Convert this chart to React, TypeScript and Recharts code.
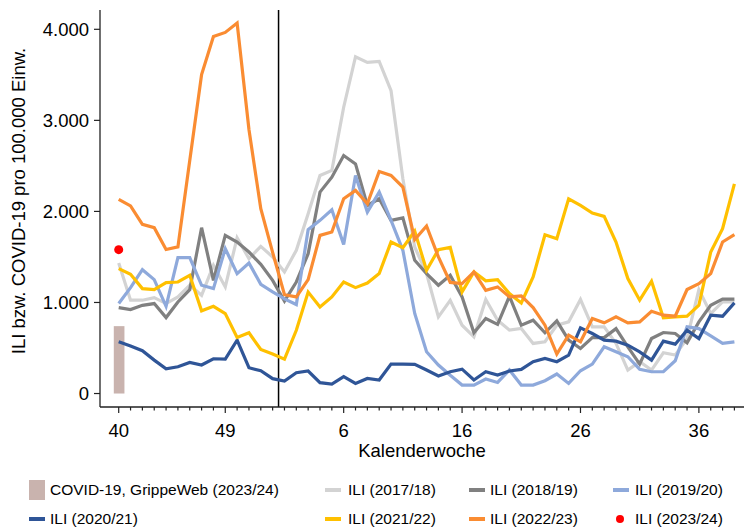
import { ComposedChart, Line, Bar, XAxis, YAxis, ReferenceLine } from 'recharts';

const weeks = [
  40, 41, 42, 43, 44, 45, 46, 47, 48, 49, 50, 51, 52, 53,
  1, 2, 3, 4, 5, 6, 7, 8, 9, 10, 11, 12, 13, 14, 15, 16, 17, 18, 19, 20,
  21, 22, 23, 24, 25, 26, 27, 28, 29, 30, 31, 32, 33, 34, 35, 36, 37, 38, 39,
];
const labelledWeeks = [40, 49, 6, 16, 26, 36];
const yTicks = [0, 1000, 2000, 3000, 4000];

const covid2324 = [740];
const ili2324 = [1580];
const ili1718 = [
  1434, 1025, 1025, 1053, 988, 1061, 1189, 1079, 1408, 1171, 1711, 1481, 1616, 1500,
  1335, 1573, 1975, 2395, 2450, 3144, 3699, 3636, 3647, 3326, 2358, 1610, 1317, 842, 1024, 750,
  623, 1032, 805, 696, 714, 550, 568, 750, 787, 1032, 732, 732, 550, 258, 350, 258,
  448, 422, 604, 1141, 878, 1006, 1006,
];
const ili1819 = [
  944, 922, 969, 988, 834, 1006, 1141, 1821, 1243, 1737, 1664, 1554, 1419, 1243,
  1015, 1225, 1536, 2212, 2376, 2614, 2522, 2065, 2139, 1901, 1929, 1463, 1317, 1189, 1298, 1061,
  667, 824, 760, 1068, 750, 805, 667, 798, 586, 495, 615, 615, 713, 513, 323, 604,
  670, 659, 557, 787, 970, 1036, 1036,
];
const ili1920 = [
  988, 1163, 1360, 1251, 958, 1492, 1492, 1189, 1152, 1591, 1317, 1434, 1200, 1116,
  1040, 977, 1799, 1902, 2018, 1638, 2395, 1993, 2212, 1901, 1573, 879, 459, 313, 200, 93,
  93, 159, 122, 258, 93, 93, 141, 214, 111, 250, 323, 513, 458, 404, 265, 239,
  239, 360, 732, 713, 633, 550, 568,
];
const ili2021 = [
  568, 521, 470, 367, 272, 294, 342, 313, 382, 378, 586, 283, 250, 163,
  137, 228, 247, 119, 104, 185, 111, 166, 148, 323, 323, 320, 258, 192, 239, 268,
  148, 239, 203, 247, 265, 349, 385, 349, 422, 721, 659, 586, 575, 531, 458, 367,
  575, 542, 696, 604, 860, 849, 995,
];
const ili2122 = [
  1372, 1310, 1152, 1141, 1218, 1225, 1298, 908, 958, 878, 616, 667, 484, 435,
  378, 695, 1115, 951, 1061, 1225, 1163, 1214, 1317, 1664, 1602, 1784, 1353, 1580, 1605, 1116,
  1335, 1237, 1251, 1098, 995, 1280, 1744, 1700, 2139, 2066, 1982, 1945, 1664, 1262, 1025, 1233,
  831, 842, 849, 970, 1554, 1810, 2303,
];
const ili2223 = [
  2132, 2060, 1858, 1821, 1582, 1610, 2560, 3502, 3922, 3966, 4068, 2900, 2030, 1550,
  1085, 1061, 1251, 1737, 1774, 2139, 2230, 2084, 2438, 2395, 2267, 1690, 1840, 1500, 1220, 1207,
  1335, 1134, 1171, 1061, 1072, 944, 750, 433, 641, 568, 824, 776, 842, 776, 787, 904,
  860, 849, 1142, 1207, 1317, 1664, 1744,
];

const data = weeks.map((week, i) => ({
  i,
  week,
  covid: covid2324[i] ?? null,
  s1718: ili1718[i],
  s1819: ili1819[i],
  s1920: ili1920[i],
  s2021: ili2021[i],
  s2122: ili2122[i],
  s2223: ili2223[i],
  s2324: ili2324[i] ?? null,
}));

const FONT = '"Liberation Sans", Arial, sans-serif';
const AXIS = '#222';

const series = [
  { key: 's1718', name: 'ILI (2017/18)', color: '#D3D3D3' },
  { key: 's1819', name: 'ILI (2018/19)', color: '#808080' },
  { key: 's1920', name: 'ILI (2019/20)', color: '#8EA9DB' },
  { key: 's2021', name: 'ILI (2020/21)', color: '#2F5597' },
  { key: 's2122', name: 'ILI (2021/22)', color: '#FFC000' },
  { key: 's2223', name: 'ILI (2022/23)', color: '#FA8C32' },
];

function WeekTick(props: any) {
  const { x, y, payload } = props;
  const week = weeks[payload.value];
  const major = labelledWeeks.includes(week);
  return (
    <g>
      <line x1={x} x2={x} y1={y} y2={y + (major ? 6 : 3.5)} stroke={AXIS} strokeWidth={1.2} />
      {major && (
        <text x={x} y={y + 23} dy="0.355em" textAnchor="middle" fontSize={18.5} fill="#000" fontFamily={FONT}>
          {week}
        </text>
      )}
    </g>
  );
}

const legendItems = [
  { name: 'COVID-19, GrippeWeb (2023/24)', kind: 'rect', color: '#C9B3AE', left: 29, text: 50, row: 0 },
  { name: 'ILI (2017/18)', kind: 'line', color: '#D3D3D3', left: 325, text: 348, row: 0 },
  { name: 'ILI (2018/19)', kind: 'line', color: '#808080', left: 469, text: 490, row: 0 },
  { name: 'ILI (2019/20)', kind: 'line', color: '#8EA9DB', left: 613, text: 635, row: 0 },
  { name: 'ILI (2020/21)', kind: 'line', color: '#2F5597', left: 29, text: 50, row: 1 },
  { name: 'ILI (2021/22)', kind: 'line', color: '#FFC000', left: 325, text: 348, row: 1 },
  { name: 'ILI (2022/23)', kind: 'line', color: '#FA8C32', left: 469, text: 490, row: 1 },
  { name: 'ILI (2023/24)', kind: 'dot', color: '#FF0000', left: 616, text: 635, row: 1 },
];

function ChartLegend() {
  return (
    <>
      {legendItems.map((it) => {
        const cy = it.row === 0 ? 490 : 519;
        return (
          <div key={it.name}>
            {it.kind === 'rect' && (
              <div style={{ position: 'absolute', left: it.left, top: cy - 10, width: 16, height: 20, background: it.color }} />
            )}
            {it.kind === 'line' && (
              <div style={{ position: 'absolute', left: it.left, top: cy - 2, width: 16, height: 4, background: it.color }} />
            )}
            {it.kind === 'dot' && (
              <div style={{ position: 'absolute', left: it.left, top: cy - 4, width: 8, height: 8, borderRadius: 4, background: it.color }} />
            )}
            <div style={{ position: 'absolute', left: it.text, top: cy - 10, height: 20, lineHeight: '20px', fontSize: 15.5, color: '#000', whiteSpace: 'nowrap' }}>
              {it.name}
            </div>
          </div>
        );
      })}
    </>
  );
}

export default function App() {
  return (
    <div style={{ position: 'absolute', left: 0, top: 0, width: 744, height: 528, background: '#fff', fontFamily: FONT }}>
      <ComposedChart width={744} height={528} data={data} margin={{ top: 10, right: 0, bottom: 61, left: 0 }}>
        <XAxis
          dataKey="i"
          type="number"
          domain={[-1.58, 52.81]}
          allowDataOverflow
          ticks={weeks.map((_, i) => i)}
          interval={0}
          height={60}
          tickSize={0}
          tickMargin={0}
          tickLine={false}
          axisLine={{ stroke: AXIS, strokeWidth: 1.3 }}
          tick={<WeekTick />}
          label={{
            content: ({ viewBox }: any) => (
              <text x={viewBox.x + viewBox.width / 2} y={viewBox.y + 43.5} dy="0.355em" textAnchor="middle" fontSize={18.5} fill="#000" fontFamily={FONT}>
                Kalenderwoche
              </text>
            ),
          }}
        />
        <YAxis
          type="number"
          domain={[-148, 4212]}
          allowDataOverflow
          ticks={yTicks}
          width={100}
          tickSize={6}
          tickMargin={5}
          tickLine={{ stroke: AXIS, strokeWidth: 1.2 }}
          axisLine={{ stroke: AXIS, strokeWidth: 1.3 }}
          tick={{ fontSize: 18.5, fill: '#000', fontFamily: FONT }}
          tickFormatter={(v: number) => (v === 0 ? '0' : `${v / 1000}.000`)}
          label={{
            content: () => (
              <text x={18} y={201} transform="rotate(-90 18 201)" dy="0.355em" textAnchor="middle" fontSize={18.5} fill="#000" fontFamily={FONT}>
                ILI bzw. COVID-19 pro 100.000 Einw.
              </text>
            ),
          }}
        />
        <Bar dataKey="covid" barSize={12} fill="#C9B3AE" isAnimationActive={false} />
        <ReferenceLine x={13.5} stroke="#000" strokeWidth={1.5} />
        {series.map((s) => (
          <Line
            key={s.key}
            dataKey={s.key}
            name={s.name}
            type="linear"
            stroke={s.color}
            strokeWidth={3.2}
            dot={false}
            activeDot={false}
            isAnimationActive={false}
          />
        ))}
        <Line
          dataKey="s2324"
          name="ILI (2023/24)"
          stroke="none"
          dot={{ r: 4.5, fill: '#FF0000', stroke: 'none' }}
          activeDot={false}
          isAnimationActive={false}
        />
      </ComposedChart>
      <ChartLegend />
    </div>
  );
}
